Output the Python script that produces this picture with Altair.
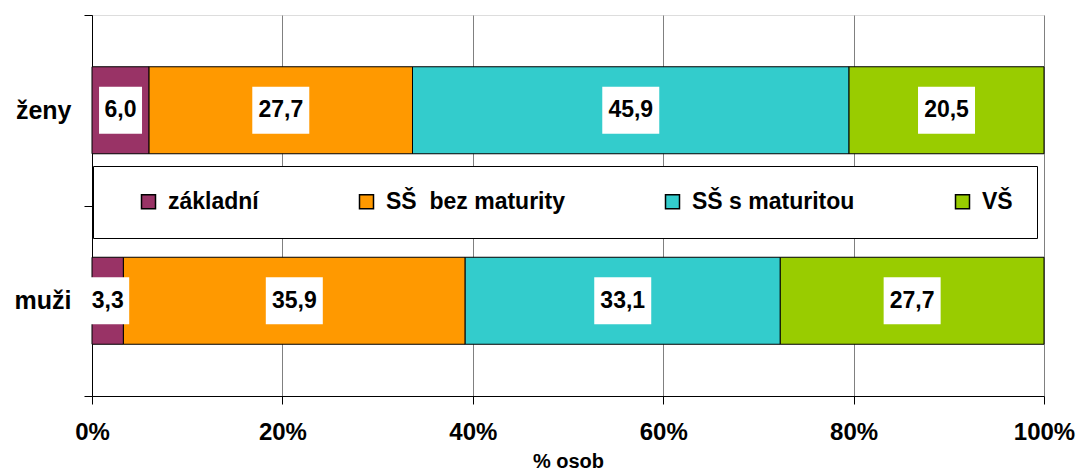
import altair as alt
import pandas as pd

# Education level shares (% of persons) for women and men
levels = ["základní", "SŠ\u00a0 bez maturity", "SŠ s maturitou", "VŠ"]
colors = ["#993366", "#FF9900", "#33CCCC", "#99CC00"]
groups = ["ženy", "muži"]
zeny = [6.0, 27.7, 45.9, 20.5]
muzi = [3.3, 35.9, 33.1, 27.7]
x_ticks = [0, 0.2, 0.4, 0.6, 0.8, 1.0]

rows = []
for g, vals in zip(groups, [zeny, muzi]):
    for i, (lvl, v) in enumerate(zip(levels, vals)):
        rows.append({"skupina": g, "vzdelani": lvl, "poradi": i, "podil": v})
df = pd.DataFrame(rows)

FONT = "Liberation Sans"

# white label backgrounds: custom symbol paths in the unit square (-1..1)
box_narrow = "M-0.754,-0.825H0.754V0.825H-0.754Z"
box_wide = "M-1,-0.825H1V0.825H-1Z"

base = alt.Chart(df).transform_stack(
    stack="podil",
    groupby=["skupina"],
    as_=["x0", "x1"],
    offset="normalize",
    sort=[alt.SortField("poradi", order="ascending")],
).transform_calculate(
    stred="(datum.x0 + datum.x1) / 2",
    popisek="replace(format(datum.podil, '.1f'), '.', ',')",
    sirka="length(datum.popisek) > 3 ? 'siroky' : 'uzky'",
)

x_axis = alt.Axis(
    format=".0%", values=x_ticks, title="% osob",
    titleFontSize=20, titleFontWeight="bold", titleColor="black", titlePadding=7,
    labelFontSize=24, labelFontWeight="bold", labelColor="black", labelPadding=16,
    labelFlush=False,
    tickSize=8, tickColor="black", domainColor="black",
    grid=True, gridColor="#808080", gridWidth=1,
)
x_scale = alt.Scale(domain=[0, 1], nice=False)

y_enc = alt.Y(
    "skupina:N", sort=groups,
    scale=alt.Scale(paddingInner=0, paddingOuter=0),
    axis=alt.Axis(
        title=None, labelFontSize=25, labelFontWeight="bold", labelColor="black",
        labelPadding=13, tickSize=8, tickBand="extent", tickColor="black",
        domainColor="black", grid=False,
    ),
)

bars = base.mark_bar(size=87, stroke="black", strokeWidth=1).encode(
    x=alt.X("x0:Q", scale=x_scale, axis=x_axis),
    x2="x1:Q",
    y=y_enc,
    color=alt.Color(
        "vzdelani:N",
        scale=alt.Scale(domain=levels, range=colors),
        legend=alt.Legend(
            orient="none", legendX=1, legendY=151, direction="horizontal",
            title="\u00a0", titleOrient="left", titleFontSize=1,
            titlePadding=20,
            fillColor="white", strokeColor="black", padding=24,
            columnPadding=96, labelFontSize=23, labelFontWeight="bold",
            labelColor="black", labelFont=FONT, labelOffset=8, labelLimit=600,
            symbolType="square", symbolSize=196, symbolStrokeColor="black",
            symbolStrokeWidth=1.5, symbolOpacity=1,
        ),
    ),
)

boxes = base.mark_point(filled=True, opacity=1, color="white", strokeWidth=0, size=3249).encode(
    x=alt.X("stred:Q", scale=x_scale, axis=x_axis),
    y=y_enc,
    shape=alt.Shape(
        "sirka:N",
        scale=alt.Scale(domain=["uzky", "siroky"], range=[box_narrow, box_wide]),
        legend=None,
    ),
)

labels = base.mark_text(fontSize=23, fontWeight="bold", color="black", baseline="middle", font=FONT).encode(
    x=alt.X("stred:Q", scale=x_scale, axis=x_axis),
    y=y_enc,
    text="popisek:N",
)

chart = alt.layer(bars, boxes, labels).properties(
    width=952,
    height=381,
    padding={"left": 92, "top": 15, "right": 35, "bottom": 74},
    autosize=alt.AutoSizeParams(type="none"),
).configure_view(stroke=None).configure(font=FONT)

chart.save("out.html", embed_options={"renderer": "svg", "actions": False})
